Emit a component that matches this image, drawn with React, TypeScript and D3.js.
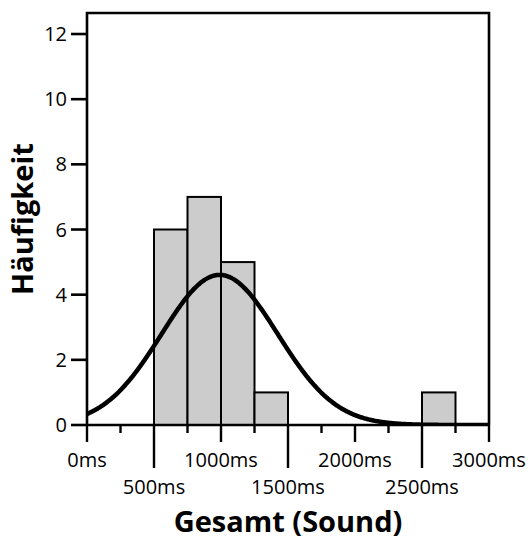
import React from "react";
import * as d3 from "d3";

// Histogram bins (ms) and counts
const binStarts = [500, 750, 1000, 1250, 2500];
const binWidth = 250;
const counts = [6, 7, 5, 1, 1];
// Fitted normal curve parameters
const fitMean = 990;
const fitSd = 433;
const sampleSize = 20;

const yTicks = [0, 2, 4, 6, 8, 10, 12];
const xMajor = [0, 500, 1000, 1500, 2000, 2500, 3000];
const xMinor = [250, 750, 1250, 1750, 2250, 2750];

const W = 528;
const H = 540;
const left = 87;
const right = 489;
const top = 13;
const bottom = 425;

export default function App() {
  const x = d3.scaleLinear().domain([0, 3000]).range([left, right]);
  const y = d3.scaleLinear().domain([0, 12.645]).range([bottom, top]);

  const pdf = (v: number) =>
    (sampleSize * binWidth) / (fitSd * Math.sqrt(2 * Math.PI)) *
    Math.exp(-((v - fitMean) ** 2) / (2 * fitSd * fitSd));
  const pts = d3.range(0, 3000.01, 10).map((v) => [v, pdf(v)] as [number, number]);
  const line = d3
    .line<[number, number]>()
    .x((d) => x(d[0]))
    .y((d) => y(d[1]))
    .curve(d3.curveBasis);

  const font = "'Open Sans', 'DejaVu Sans', sans-serif";

  return (
    <svg
      width={W}
      height={H}
      style={{ position: "absolute", left: 0, top: 0, background: "#fff" }}
      fontFamily={font}
    >
      <defs>
        <clipPath id="plot">
          <rect x={left} y={top} width={right - left} height={bottom - top} />
        </clipPath>
      </defs>
      {/* bars */}
      {binStarts.map((s, i) => (
        <rect
          key={s}
          x={x(s)}
          y={y(counts[i])}
          width={x(s + binWidth) - x(s)}
          height={y(0) - y(counts[i])}
          fill="#cccccc"
          stroke="#000"
          strokeWidth={2}
        />
      ))}
      {/* normal curve */}
      <path
        d={line(pts) ?? ""}
        fill="none"
        stroke="#000"
        strokeWidth={4.5}
        clipPath="url(#plot)"
      />
      {/* frame */}
      <path
        d={`M${left},${bottom}V${top}H${right}V${bottom}`}
        fill="none"
        stroke="#000"
        strokeWidth={2.6}
      />
      <line x1={left} x2={right} y1={bottom} y2={bottom} stroke="#000" strokeWidth={2.6} />
      {/* y axis */}
      {yTicks.map((t) => (
        <g key={t}>
          <line x1={71} x2={left} y1={y(t)} y2={y(t)} stroke="#000" strokeWidth={2.6} />
          <text x={67} y={y(t) + 7} textAnchor="end" fontSize={20}>
            {t}
          </text>
        </g>
      ))}
      {/* x axis ticks */}
      {xMinor.map((t) => (
        <line key={t} x1={x(t)} x2={x(t)} y1={bottom} y2={bottom + 8} stroke="#000" strokeWidth={2.4} />
      ))}
      {xMajor.map((t, i) => {
        const low = i % 2 === 1;
        return (
          <g key={t}>
            <line
              x1={x(t)}
              x2={x(t)}
              y1={bottom}
              y2={bottom + (low ? 43 : 17)}
              stroke="#000"
              strokeWidth={2.4}
            />
            <text x={x(t)} y={low ? 494 : 467} textAnchor="middle" fontSize={20}>
              {`${t}ms`}
            </text>
          </g>
        );
      })}
      {/* axis titles */}
      <text x={(left + right) / 2} y={532} textAnchor="middle" fontSize={29} fontWeight="bold">
        Gesamt (Sound)
      </text>
      <text
        transform={`translate(33,${(top + bottom) / 2}) rotate(-90)`}
        textAnchor="middle"
        fontSize={29}
        fontWeight="bold"
      >
        Häufigkeit
      </text>
    </svg>
  );
}
